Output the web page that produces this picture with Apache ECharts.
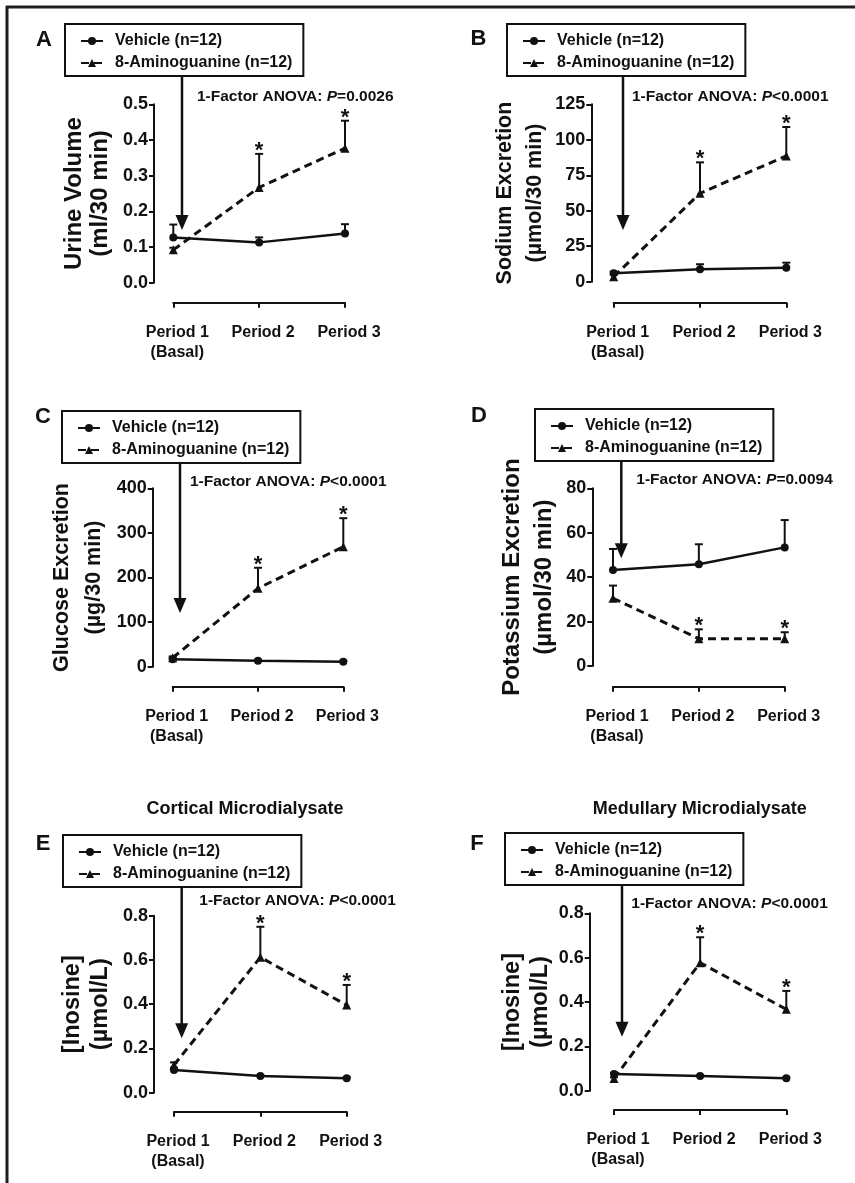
<!DOCTYPE html>
<html><head><meta charset="utf-8">
<script src="https://cdn.jsdelivr.net/npm/echarts@6/dist/echarts.min.js"></script>
<style>html,body{margin:0;padding:0;background:#fff}#chart{width:855px;height:1183px}</style>
</head><body><div id="chart"></div>
<script>
// ---------- data ----------
const categories = ['Period 1\n(Basal)', 'Period 2', 'Period 3'];
const seriesNames = ['Vehicle (n=12)', '8-Aminoguanine (n=12)'];
const panelLetters = ['A', 'B', 'C', 'D', 'E', 'F'];
const panelTitles = ['', '', '', '', 'Cortical Microdialysate', 'Medullary Microdialysate'];
const yTitles = ['Urine Volume\n(ml/30 min)', 'Sodium Excretion\n(\u00b5mol/30 min)', 'Glucose Excretion\n(\u00b5g/30 min)',
  'Potassium Excretion\n(\u00b5mol/30 min)', '[Inosine]\n(\u00b5mol/L)', '[Inosine]\n(\u00b5mol/L)'];
const anovaP = ['=0.0026', '<0.0001', '<0.0001', '=0.0094', '<0.0001', '<0.0001'];
const yMax = [0.5, 125, 400, 80, 0.8, 0.8];
const yInterval = [0.1, 25, 100, 20, 0.2, 0.2];
const yDecimals = [1, 0, 0, 0, 1, 1];

// A: urine volume (ml/30 min)
const urineVehicle = [0.127, 0.113, 0.138];
const urineVehicleSem = [0.036, 0.014, 0.026];
const urineAmino = [0.092, 0.267, 0.377];
const urineAminoSem = [0.006, 0.094, 0.077];
const urineAminoSig = [0, 1, 1];
// B: sodium excretion
const sodiumVehicle = [5.9, 8.7, 9.9];
const sodiumVehicleSem = [1.2, 3.6, 3.5];
const sodiumAmino = [3.5, 62.3, 88.6];
const sodiumAminoSem = [1.5, 21.8, 20.4];
const sodiumAminoSig = [0, 1, 1];
// C: glucose excretion
const glucoseVehicle = [16.6, 13.5, 11.2];
const glucoseVehicleSem = [2.5, 2.0, 2.0];
const glucoseAmino = [20, 175.8, 269];
const glucoseAminoSem = [3, 46, 64];
const glucoseAminoSig = [0, 1, 1];
// D: potassium excretion
const potassiumVehicle = [43.2, 45.8, 53.4];
const potassiumVehicleSem = [9.5, 9.0, 12.3];
const potassiumAmino = [30.5, 12.3, 12.3];
const potassiumAminoSem = [5.7, 4.2, 2.9];
const potassiumAminoSig = [0, 1, 1];
// E: cortical inosine
const corticalVehicle = [0.103, 0.075, 0.065];
const corticalVehicleSem = [0.01, 0.005, 0.005];
const corticalAmino = [0.125, 0.612, 0.396];
const corticalAminoSem = [0.012, 0.138, 0.091];
const corticalAminoSig = [0, 1, 1];
// F: medullary inosine
const medullaryVehicle = [0.075, 0.066, 0.056];
const medullaryVehicleSem = [0.005, 0.004, 0.004];
const medullaryAmino = [0.055, 0.577, 0.367];
const medullaryAminoSem = [0.005, 0.115, 0.083];
const medullaryAminoSig = [0, 1, 1];

const panelData = [
  [urineVehicle, urineVehicleSem, urineAmino, urineAminoSem, urineAminoSig],
  [sodiumVehicle, sodiumVehicleSem, sodiumAmino, sodiumAminoSem, sodiumAminoSig],
  [glucoseVehicle, glucoseVehicleSem, glucoseAmino, glucoseAminoSem, glucoseAminoSig],
  [potassiumVehicle, potassiumVehicleSem, potassiumAmino, potassiumAminoSem, potassiumAminoSig],
  [corticalVehicle, corticalVehicleSem, corticalAmino, corticalAminoSem, corticalAminoSig],
  [medullaryVehicle, medullaryVehicleSem, medullaryAmino, medullaryAminoSem, medullaryAminoSig]
];

// ---------- layout ----------
const FONT = '"Liberation Sans", Arial, Helvetica, sans-serif';
const INK = '#111';
const layout = [
  {grid: [173.3, 104.3, 171.7, 178.4], yAxisX: 154, xAxisY: 302.7, legend: [65, 24], arrow: [182, 76, 230], anova: [197, 97], letter: [44, 40], nameGap: 40.5, nameLH: 26, nameSize: 24},
  {grid: [613.7, 104.3, 172.6, 177.4], yAxisX: 591.3, xAxisY: 302.7, legend: [507, 24], arrow: [623, 76, 230], anova: [632, 97], letter: [478.5, 39], nameGap: 41, nameLH: 30, nameSize: 21.5},
  {grid: [172.7, 488.3, 170.6, 178.4], yAxisX: 152.7, xAxisY: 686.7, legend: [62, 411], arrow: [180, 460, 613], anova: [190, 481.7], letter: [43, 417], nameGap: 42.5, nameLH: 32, nameSize: 21.5},
  {grid: [613, 488.3, 171.7, 177.7], yAxisX: 592.3, xAxisY: 686.7, legend: [535, 409], arrow: [621.3, 460, 558.3], anova: [636.3, 480], letter: [479, 415.5], nameGap: 31.5, nameLH: 32, nameSize: 24},
  {grid: [174, 915.7, 172.7, 177], yAxisX: 154, xAxisY: 1111.7, legend: [63, 835], arrow: [181.7, 887, 1038.3], anova: [199.3, 901], letter: [43, 844], nameGap: 39.5, nameLH: 28, nameSize: 23.5, title: [245, 809]},
  {grid: [614, 913.3, 172.3, 177.4], yAxisX: 589.7, xAxisY: 1110, legend: [505, 833], arrow: [622, 885, 1036.7], anova: [631.3, 903.3], letter: [477, 844], nameGap: 35, nameLH: 28, nameSize: 23.5, title: [699.7, 809]}
];

function renderErr(params, api) {
  const x = api.value(0), m = api.value(1), s = api.value(2), sig = api.value(3);
  const p0 = api.coord([x, m]);
  const p1 = api.coord([x, m + s]);
  const children = [
    {type: 'line', shape: {x1: p0[0], y1: p0[1], x2: p1[0], y2: p1[1]}, style: {stroke: INK, lineWidth: 2}},
    {type: 'line', shape: {x1: p1[0] - 4, y1: p1[1], x2: p1[0] + 4, y2: p1[1]}, style: {stroke: INK, lineWidth: 2}}
  ];
  if (sig) {
    children.push({type: 'text', style: {text: '*', x: p1[0], y: p1[1] - 3, fill: INK,
      font: 'bold 22px ' + FONT, align: 'center', verticalAlign: 'middle'}});
  }
  return {type: 'group', children: children};
}

const option = {animation: false, backgroundColor: '#fff', textStyle: {fontFamily: FONT},
  grid: [], xAxis: [], yAxis: [], legend: [], series: [], graphic: []};

option.graphic.push({type: 'line', shape: {x1: 6, y1: 7, x2: 855, y2: 7}, style: {stroke: '#1e1e1e', lineWidth: 3}});
option.graphic.push({type: 'line', shape: {x1: 7, y1: 6, x2: 7, y2: 1183}, style: {stroke: '#1e1e1e', lineWidth: 3}});

layout.forEach(function (L, i) {
  const g = L.grid;
  const d = panelData[i];
  option.grid.push({left: g[0], top: g[1], width: g[2], height: g[3], containLabel: false});
  option.xAxis.push({type: 'category', gridIndex: i, data: categories, boundaryGap: false,
    offset: L.xAxisY - (g[1] + g[3]),
    axisLine: {onZero: false, lineStyle: {color: INK, width: 2}},
    axisTick: {show: true, inside: false, length: 5, alignWithLabel: true, lineStyle: {color: INK, width: 2}},
    axisLabel: {interval: 0, margin: 20, color: INK, fontSize: 16, fontWeight: 'bold', lineHeight: 20, padding: [0, 0, 0, 8]},
    splitLine: {show: false}});
  const dec = yDecimals[i];
  option.yAxis.push({type: 'value', gridIndex: i, min: 0, max: yMax[i], interval: yInterval[i],
    offset: g[0] - L.yAxisX,
    name: yTitles[i], nameLocation: 'middle', nameGap: L.nameGap, nameRotate: 90,
    nameTextStyle: {color: INK, fontSize: L.nameSize, fontWeight: 'bold', lineHeight: L.nameLH},
    axisLine: {show: true, onZero: false, lineStyle: {color: INK, width: 2}},
    axisTick: {show: true, inside: false, length: 5, lineStyle: {color: INK, width: 2}},
    axisLabel: {margin: 6, color: INK, fontSize: 18, fontWeight: 'bold', formatter: function (v) { return v.toFixed(dec); }},
    splitLine: {show: false}});
  option.legend.push({left: L.legend[0], top: L.legend[1], orient: 'vertical', selectedMode: false,
    padding: [7, 11, 3, 15], borderColor: INK, borderWidth: 2, borderRadius: 0, backgroundColor: '#fff',
    itemWidth: 22, itemHeight: 10, itemGap: 2,
    textStyle: {color: INK, fontSize: 16, fontWeight: 'bold', lineHeight: 20, padding: [0, 0, 0, 7]},
    data: seriesNames});
  option.series.push({type: 'custom', name: 'vehErr' + i, xAxisIndex: i, yAxisIndex: i, z: 1,
    renderItem: renderErr, data: d[0].map(function (v, k) { return [k, v, d[1][k], 0]; })});
  option.series.push({type: 'custom', name: 'agErr' + i, xAxisIndex: i, yAxisIndex: i, z: 1,
    renderItem: renderErr, data: d[2].map(function (v, k) { return [k, v, d[3][k], d[4][k]]; })});
  option.series.push({type: 'line', name: seriesNames[1], xAxisIndex: i, yAxisIndex: i, z: 2,
    data: d[2], symbol: 'triangle', symbolSize: 9, showAllSymbol: true,
    itemStyle: {color: INK}, lineStyle: {color: INK, width: 3, type: [8, 5]}});
  option.series.push({type: 'line', name: seriesNames[0], xAxisIndex: i, yAxisIndex: i, z: 3,
    data: d[0], symbol: 'circle', symbolSize: 8, showAllSymbol: true,
    itemStyle: {color: INK}, lineStyle: {color: INK, width: 2.5}});

  option.graphic.push({type: 'text', style: {text: panelLetters[i], x: L.letter[0], y: L.letter[1], fill: INK,
    font: 'bold 22px ' + FONT, align: 'center', verticalAlign: 'middle'}});
  const a = L.arrow;
  option.graphic.push({type: 'line', shape: {x1: a[0], y1: a[1], x2: a[0], y2: a[2] - 13}, style: {stroke: INK, lineWidth: 2.5}});
  option.graphic.push({type: 'polygon', shape: {points: [[a[0] - 6.5, a[2] - 15], [a[0] + 6.5, a[2] - 15], [a[0], a[2]]]}, style: {fill: INK}});
  option.graphic.push({type: 'text', style: {
    text: '{n|1-Factor ANOVA: }{i|P}{n|' + anovaP[i] + '}', x: L.anova[0], y: L.anova[1],
    align: 'left', verticalAlign: 'middle',
    rich: {n: {font: 'bold 15.5px ' + FONT, fill: INK}, i: {font: 'italic bold 15.5px ' + FONT, fill: INK}}}});
  if (panelTitles[i]) {
    option.graphic.push({type: 'text', style: {text: panelTitles[i], x: L.title[0], y: L.title[1], fill: INK,
      font: 'bold 18px ' + FONT, align: 'center', verticalAlign: 'middle'}});
  }
});

const chart = echarts.init(document.getElementById('chart'), null, {renderer: 'canvas'});
chart.setOption(option);
</script></body></html>
